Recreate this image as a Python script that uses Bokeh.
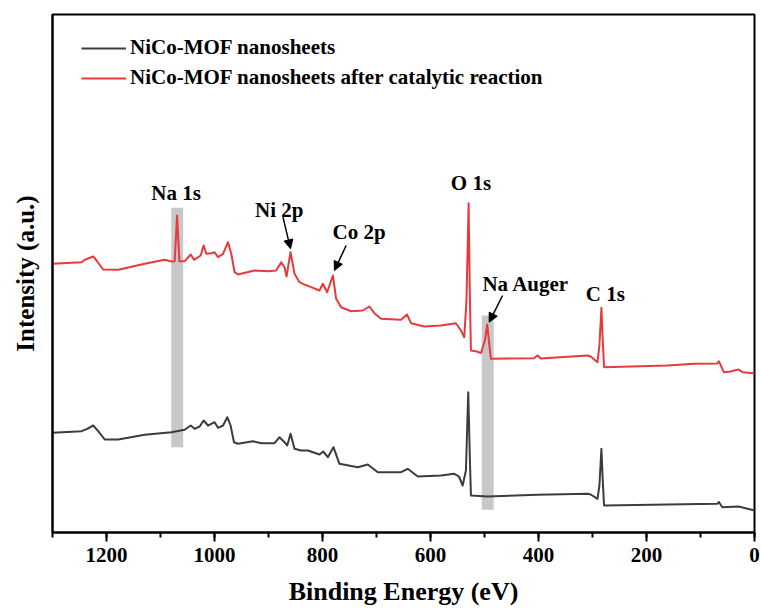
from bokeh.plotting import figure
from bokeh.models import (Range1d, SingleIntervalTicker, FixedTicker, Legend, LegendItem,
                          Arrow, NormalHead, ColumnDataSource, LabelSet)
from bokeh.embed import file_html
from bokeh.resources import INLINE
from bokeh.core.properties import value

# ---------------- data ----------------
energy_black = [1300, 1246.2, 1235.7, 1224.6, 1215.4, 1203.2, 1178.4, 1129.2, 1079.8, 1055.2,
                1044.1, 1036.7, 1027.5, 1020.1, 1012.0, 1005.9, 999.8, 993.5, 984.2, 976.3,
                970.2, 963.9, 956.5, 928.8, 913.4, 888.8, 879.6, 870.3, 865.3, 859.2,
                851.8, 839.4, 827.1, 805.6, 798.8, 790.1, 779.7, 768.6, 734.6, 716.1,
                697.6, 654.5, 642.2, 623.7, 580.6, 556.0, 547.3, 540.5, 534.4, 530.1,
                527.0, 525.1, 494.2, 401.8, 309.3, 303.2, 290.8, 287.2, 283.5, 281.0,
                278.6, 161.4, 69.0, 66.0, 59.7, 29.6, 0]
intensity_black = [99.7, 101.3, 103.7, 107, 101.3, 93, 93, 97.7, 100.3, 102.7,
                   107, 103.7, 106, 112, 107, 108.7, 110.3, 104.7, 107, 115.3,
                   107, 90.3, 88.7, 91.3, 89.3, 89.3, 95.3, 90.3, 87, 98.7,
                   83.7, 82, 82, 78, 81, 75.3, 85.3, 68.7, 65.3, 68,
                   60.3, 60.3, 63.7, 56, 57, 58.7, 56, 47, 62, 140.3,
                   72, 37, 36, 37.7, 38.7, 38, 33.7, 47, 83.7, 52,
                   27, 28, 28.7, 30.5, 25.3, 26, 22]

energy_red = [1300, 1246.2, 1240.1, 1224.6, 1218.5, 1206.1, 1178.4, 1129.2, 1092.2, 1079.8,
              1073.7, 1069.3, 1065.0, 1055.2, 1044.1, 1037.8, 1025.6, 1020.1, 1015.1, 1005.9,
              999.8, 993.5, 984.2, 975.0, 968.9, 962.8, 956.5, 931.9, 925.8, 901.0,
              885.7, 876.4, 870.3, 866.6, 859.2, 851.8, 842.6, 836.3, 821.0, 805.6,
              799.3, 791.4, 780.8, 774.7, 765.5, 747.0, 725.4, 713.2, 703.9, 691.5,
              654.5, 643.5, 636.1, 611.5, 580.6, 552.9, 543.6, 537.5, 533.4, 529.4,
              527.0, 525.1, 514.0, 506.6, 499.2, 495.0, 490.9, 488.1, 408.6, 401.8,
              395.7, 309.3, 303.2, 290.8, 287.2, 283.5, 281.0, 278.6, 161.4, 112.2,
              69.0, 66.0, 56.8, 44.4, 29.6, 22.2, 0]
intensity_red = [268.7, 270.3, 272.7, 276, 272, 263, 262.7, 268.7, 272.7, 271,
                 271.3, 317, 271.3, 271.3, 278, 272.7, 277, 287, 278.7, 279.3,
                 280.3, 275.3, 278.7, 290.3, 278.7, 260.3, 258, 261.3, 262, 261.3,
                 262, 270.3, 265.3, 256, 280.3, 258.7, 250.3, 248.7, 245.3, 242,
                 248.7, 240.3, 257, 233.7, 225.3, 221.3, 222, 226, 219.3, 213.7,
                 212.7, 218, 209.3, 206, 207, 209.3, 202, 195.3, 232, 329.3,
                 232, 182, 181, 179.3, 192, 208, 187, 173.7, 174.3, 177,
                 174, 177, 176, 170.3, 187, 224.7, 192, 165.3, 167, 168.7,
                 169, 171.3, 160.3, 161, 163, 160.3, 159.3]

series_names = ["NiCo-MOF nanosheets", "NiCo-MOF nanosheets after catalytic reaction"]

# shaded bands (Na 1s, Na Auger)
band_left = [1080, 505]
band_right = [1058, 483]
band_bottom = [85.3, 22.7]
band_top = [324.7, 217]

# peak annotations
peak_names = ["Na 1s", "Ni 2p", "Co 2p", "O 1s", "Na Auger", "C 1s"]
peak_label_energy = [1071.1, 880.1, 732.2, 525.1, 423.4, 276.1]
peak_label_intensity = [339.5, 323, 300.3, 350, 249, 239]

# arrows (start -> end)
arrow_x_start = [873.2, 756.2, 466.5]
arrow_y_start = [315.3, 287, 237]
arrow_x_end = [859.2, 777.9, 491.3]
arrow_y_end = [283.7, 262, 210.3]

FONT = "Liberation Serif"

p = figure(width=761, height=608, output_backend="svg", toolbar_location=None,
           x_range=Range1d(1300, 0), y_range=Range1d(0, 518),
           min_border_left=52, min_border_right=7, min_border_top=14, min_border_bottom=76)
p.grid.visible = False
p.background_fill_color = "white"
p.border_fill_color = "white"
p.outline_line_color = "black"
p.outline_line_width = 2
p.outline_line_alpha = 1

# x axis
xa = p.xaxis[0]
xa.ticker = SingleIntervalTicker(interval=200, num_minor_ticks=2)
xa.axis_line_width = 2
xa.axis_line_color = "black"
xa.major_tick_line_width = 2
xa.major_tick_out = 9
xa.major_tick_in = 0
xa.minor_tick_line_width = 2
xa.minor_tick_out = 5
xa.minor_tick_in = 0
xa.major_label_text_font = FONT
xa.major_label_text_font_style = "bold"
xa.major_label_text_font_size = "21px"
xa.major_label_text_color = "black"
xa.major_label_standoff = 6
xa.axis_label = "Binding Energy (eV)"
xa.axis_label_text_font = FONT
xa.axis_label_text_font_style = "bold"
xa.axis_label_text_font_size = "26px"
xa.axis_label_text_color = "black"
xa.axis_label_standoff = 12

# y axis (no ticks)
ya = p.yaxis[0]
ya.ticker = FixedTicker(ticks=[])
ya.major_tick_line_color = None
ya.minor_tick_line_color = None
ya.axis_line_width = 2
ya.axis_line_color = "black"
ya.axis_label = "Intensity (a.u.)"
ya.axis_label_text_font = FONT
ya.axis_label_text_font_style = "bold"
ya.axis_label_text_font_size = "25px"
ya.axis_label_text_color = "black"
ya.axis_label_standoff = 14

# bands
p.quad(left=band_left, right=band_right, bottom=band_bottom, top=band_top,
       fill_color="#c8c8c8", line_color=None)

# spectra
r_black = p.line(energy_black, intensity_black, line_color="#3c3c3c", line_width=2, line_join="round")
r_red = p.line(energy_red, intensity_red, line_color="#e8393d", line_width=2, line_join="round")

# labels
lab_src = ColumnDataSource(dict(x=peak_label_energy, y=peak_label_intensity, text=peak_names))
p.add_layout(LabelSet(x="x", y="y", text="text", source=lab_src,
                      text_font=value(FONT), text_font_style="bold", text_font_size="21px",
                      text_align="center", text_baseline="middle", text_color="black"))

for xs, ys, xe, ye in zip(arrow_x_start, arrow_y_start, arrow_x_end, arrow_y_end):
    p.add_layout(Arrow(end=NormalHead(size=9, fill_color="black", line_color="black", line_width=1),
                       x_start=xs, y_start=ys, x_end=xe, y_end=ye,
                       line_color="black", line_width=1.5))

legend = Legend(items=[LegendItem(label=series_names[0], renderers=[r_black]),
                       LegendItem(label=series_names[1], renderers=[r_red])],
                location=(29, 442), orientation="vertical",
                label_text_font=FONT, label_text_font_style="bold", label_text_font_size="21px",
                label_text_color="black", glyph_width=45, glyph_height=20, label_height=20,
                label_standoff=4, spacing=5, padding=0, margin=0,
                border_line_color=None, background_fill_alpha=0)
p.add_layout(legend)

open("out.html", "w").write(file_html(p, INLINE))
